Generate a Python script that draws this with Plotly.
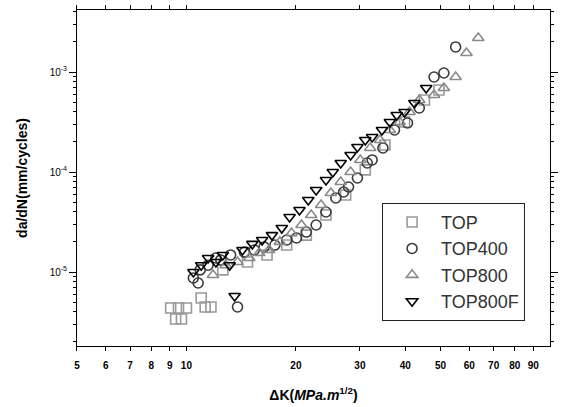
import plotly.graph_objects as go

# ---- data (ΔK in MPa·m^1/2, da/dN in mm/cycle) ----
top_dk = [9.05, 9.51, 10.0, 10.98, 11.26, 11.68, 9.34, 9.69,
          12.59, 14.72, 16.66, 18.87, 21.37, 24.20, 27.41, 31.04, 35.16, 39.81, 45.14, 49.5]
top_dadn = [4.37e-6, 4.37e-6, 4.37e-6, 5.50e-6, 4.47e-6, 4.47e-6, 3.39e-6, 3.39e-6,
            1.05e-5, 1.26e-5, 1.48e-5, 1.86e-5, 2.34e-5, 3.72e-5, 5.89e-5, 1.05e-4, 1.86e-4, 3.16e-4, 5.25e-4, 6.6e-4]

top400_dk = [10.45, 10.91, 10.77, 11.47, 12.05, 12.43, 13.23, 13.82, 14.44, 15.37, 16.35, 17.51,
             18.87, 20.08, 21.37, 22.74, 24.20, 25.76, 27.06, 27.92, 29.53, 31.43, 32.42, 34.71,
             37.35, 40.56, 43.70, 47.98, 51.06, 55.02]
top400_dadn = [8.71e-6, 1.05e-5, 7.76e-6, 1.17e-5, 1.38e-5, 1.32e-5, 1.48e-5, 4.47e-6, 1.58e-5, 1.66e-5,
               1.78e-5, 1.86e-5, 2.09e-5, 2.19e-5, 2.51e-5, 2.95e-5, 3.98e-5, 5.50e-5, 6.31e-5, 7.08e-5,
               8.71e-5, 1.23e-4, 1.32e-4, 1.74e-4, 2.63e-4, 3.09e-4, 4.37e-4, 8.91e-4, 9.77e-4, 1.78e-3]

top800_dk = [11.83, 12.83, 13.82, 14.89, 15.85, 16.87, 18.07, 19.46, 20.72, 22.04, 23.46, 24.96, 26.57,
             28.28, 30.08, 32.02, 34.08, 36.27, 38.60, 41.08, 43.70, 47.98, 51.06, 55.02, 58.92, 63.49]
top800_dadn = [9.33e-6, 1.17e-5, 1.26e-5, 1.38e-5, 1.55e-5, 1.66e-5, 2.0e-5, 2.45e-5, 2.95e-5, 3.72e-5,
               4.68e-5, 6.17e-5, 7.94e-5, 1.0e-4, 1.32e-4, 1.74e-4, 2.09e-4, 2.63e-4, 3.16e-4, 3.98e-4,
               5.25e-4, 5.89e-4, 6.92e-4, 8.91e-4, 1.55e-3, 2.19e-3]

top800f_dk = [10.45, 10.98, 11.47, 12.05, 12.59, 13.15, 13.57, 14.26, 15.18, 16.15, 17.19, 18.29, 19.22,
              20.46, 21.63, 22.74, 24.20, 25.27, 26.57, 28.28, 29.53, 31.04, 32.42, 34.50, 36.27, 37.88,
              39.81, 42.36, 45.65]
top800f_dadn = [1.0e-5, 1.17e-5, 1.38e-5, 1.26e-5, 1.48e-5, 1.17e-5, 5.75e-6, 1.66e-5, 1.91e-5, 2.09e-5,
                2.34e-5, 2.75e-5, 3.55e-5, 4.17e-5, 5.25e-5, 6.61e-5, 8.32e-5, 1.0e-4, 1.23e-4, 1.48e-4,
                1.78e-4, 2.09e-4, 2.24e-4, 2.63e-4, 3.16e-4, 3.72e-4, 3.98e-4, 4.90e-4, 6.92e-4]

x_ticks = [5, 6, 7, 8, 9, 10, 20, 30, 40, 50, 60, 70, 80, 90]
y_ticks = [1e-5, 1e-4, 1e-3]
y_ticklabels = ["10<sup>-5</sup>", "10<sup>-4</sup>", "10<sup>-3</sup>"]
y_minor = [m * 10.0 ** e for e in (-6, -5, -4, -3) for m in range(2, 10)]

series = [
    ("TOP", top_dk, top_dadn, "square-open", "#9a9a9a"),
    ("TOP400", top400_dk, top400_dadn, "circle-open", "#3c3c3c"),
    ("TOP800", top800_dk, top800_dadn, "triangle-up-open", "#8a8a8a"),
    ("TOP800F", top800f_dk, top800f_dadn, "triangle-down-open", "#000000"),
]

fig = go.Figure()
for name, xs, ys, sym, col in series:
    fig.add_trace(go.Scatter(
        x=xs, y=ys, mode="markers", name=name,
        marker=dict(symbol=sym, size=10, color=col, line=dict(width=1.6, color=col)),
    ))

fig.update_layout(
    width=561, height=407,
    margin=dict(l=77, r=3, t=10, b=61),
    paper_bgcolor="white", plot_bgcolor="white",
    font=dict(family="Liberation Sans, Arial, sans-serif", color="#000"),
    showlegend=True,
    legend=dict(
        x=0.645, y=0.426, xanchor="left", yanchor="top",
        bordercolor="#222", borderwidth=1, bgcolor="white",
        font=dict(size=18, color="#333"),
        itemwidth=48, tracegroupgap=2,
    ),
)

fig.update_xaxes(
    type="log", range=[0.699, 2.0],
    tickvals=x_ticks, ticktext=[f"<b>{v}</b>" for v in x_ticks],
    tickfont=dict(size=10), ticks="outside", ticklen=4, tickcolor="#000",
    ticklabelstandoff=6,
    showline=True, linecolor="#000", linewidth=1, mirror="ticks",
    showgrid=False, zeroline=False,
    title=dict(text="<b>ΔK(<i>MPa.m</i><sup>1/2</sup>)</b>", font=dict(size=14), standoff=20),
)
fig.update_yaxes(
    type="log", range=[-5.74, -2.38],
    tickvals=y_ticks, ticktext=y_ticklabels,
    tickfont=dict(size=10), ticks="outside", ticklen=7, tickcolor="#000",
    minor=dict(tickvals=y_minor, ticks="outside", ticklen=3, tickcolor="#000"),
    showline=True, linecolor="#000", linewidth=1, mirror="ticks",
    showgrid=False, zeroline=False,
    title=dict(text="<b>da/dN(mm/cycles)</b>", font=dict(size=14), standoff=18),
)

fig.write_html("out.html")
